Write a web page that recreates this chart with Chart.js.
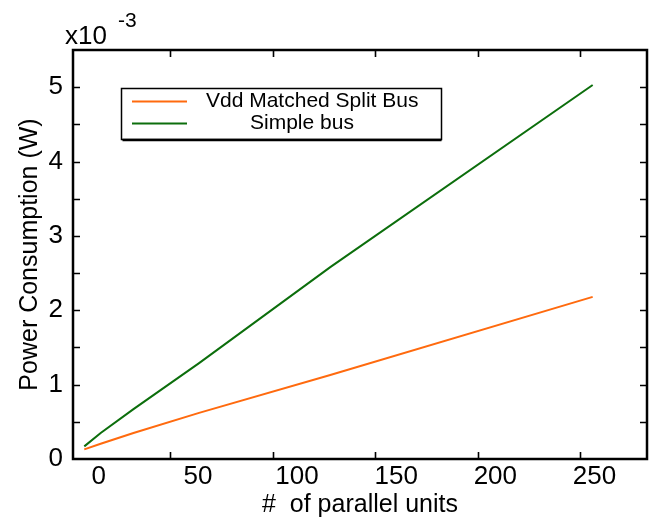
<!DOCTYPE html>
<html>
<head>
<meta charset="utf-8">
<script src="https://cdn.jsdelivr.net/npm/chart.js@4/dist/chart.umd.min.js"></script>
<style>
html,body{margin:0;padding:0;background:#fff;}
#wrap{width:654px;height:523px;position:relative;}
</style>
</head>
<body>
<div id="wrap"><canvas id="c" width="654" height="523"></canvas></div>
<script>
// ---- data ----
const parallelUnits = [8, 16, 32, 64, 128, 256];
const vddSplitBus = [0.13e-3, 0.205e-3, 0.35e-3, 0.62e-3, 1.13e-3, 2.18e-3];
const simpleBus   = [0.17e-3, 0.35e-3, 0.67e-3, 1.29e-3, 2.58e-3, 5.03e-3];
const seriesNames = ['Vdd Matched Split Bus', 'Simple bus'];
const xTickLabels = [0, 50, 100, 150, 200, 250];
const xTickMarks = [50, 100, 150, 200, 250];
const yTickMarks = [0.5e-3, 1e-3, 1.5e-3, 2e-3, 2.5e-3, 3e-3, 3.5e-3, 4e-3, 4.5e-3, 5e-3];

const FONT = 'Liberation Sans, Arial, sans-serif';
const ORANGE = '#ff6a0e';
const GREEN = '#0c6e0c';

const toPts = (xs, ys) => xs.map((x, i) => ({x: x, y: ys[i]}));

const framePlugin = {
  id: 'frame',
  afterDraw(chart) {
    const ctx = chart.ctx;
    const a = chart.chartArea;
    const xs = chart.scales.x, ys = chart.scales.y;
    ctx.save();
    ctx.strokeStyle = '#000';
    ctx.lineWidth = 1.6;
    const tl = 7;
    ctx.beginPath();
    xTickMarks.forEach(v => {
      const px = Math.round(xs.getPixelForValue(v)) + 0.5;
      ctx.moveTo(px, a.bottom); ctx.lineTo(px, a.bottom - tl);
      ctx.moveTo(px, a.top); ctx.lineTo(px, a.top + tl);
    });
    yTickMarks.forEach(v => {
      const py = Math.round(ys.getPixelForValue(v)) + 0.5;
      ctx.moveTo(a.left, py); ctx.lineTo(a.left + tl, py);
      ctx.moveTo(a.right, py); ctx.lineTo(a.right - tl, py);
    });
    ctx.stroke();
    // box
    ctx.lineWidth = 2.5;
    ctx.strokeRect(a.left, a.top, a.right - a.left, a.bottom - a.top);
    // exponent label
    ctx.fillStyle = '#000';
    ctx.textBaseline = 'alphabetic';
    ctx.textAlign = 'left';
    ctx.font = '26px ' + FONT;
    ctx.fillText('x10', 65, 44);
    ctx.font = '21px ' + FONT;
    ctx.fillText('-3', 118, 27);
    // legend
    const lx = 121.5, ly = 88.5, lw = 320, lh = 51;
    ctx.fillStyle = '#fff';
    ctx.fillRect(lx, ly, lw, lh);
    ctx.lineWidth = 1.5;
    ctx.strokeStyle = '#000';
    ctx.strokeRect(lx, ly, lw, lh);
    ctx.lineWidth = 2.5;
    ctx.beginPath(); ctx.moveTo(lx + 1, ly + lh + 0.5); ctx.lineTo(lx + lw, ly + lh + 0.5); ctx.stroke();
    ctx.lineWidth = 2;
    ctx.strokeStyle = ORANGE;
    ctx.beginPath(); ctx.moveTo(132, 101.5); ctx.lineTo(187, 101.5); ctx.stroke();
    ctx.strokeStyle = GREEN;
    ctx.beginPath(); ctx.moveTo(132, 123.5); ctx.lineTo(187, 123.5); ctx.stroke();
    ctx.fillStyle = '#000';
    ctx.font = '21px ' + FONT;
    ctx.textBaseline = 'middle';
    ctx.fillText(seriesNames[0], 206, 101);
    ctx.fillText(seriesNames[1], 250, 123);
    ctx.restore();
  }
};

new Chart(document.getElementById('c'), {
  type: 'line',
  data: {
    datasets: [
      {label: seriesNames[0], data: toPts(parallelUnits, vddSplitBus), borderColor: ORANGE, borderWidth: 2, pointRadius: 0, tension: 0, fill: false, xAxisID: 'x', yAxisID: 'y'},
      {label: seriesNames[1], data: toPts(parallelUnits, simpleBus), borderColor: GREEN, borderWidth: 2, pointRadius: 0, tension: 0, fill: false, xAxisID: 'x', yAxisID: 'y'}
    ]
  },
  options: {
    responsive: false,
    animation: false,
    layout: {padding: {left: 0, right: 7, top: 50, bottom: 0}},
    plugins: {legend: {display: false}, tooltip: {enabled: false}},
    scales: {
      x: {type: 'linear', display: false, min: 2.5, max: 282.5},
      xlab: {
        type: 'linear', position: 'bottom', min: -13, max: 276.5,
        grid: {display: false, drawTicks: false}, border: {display: false},
        afterBuildTicks: s => { s.ticks = xTickLabels.map(v => ({value: v})); },
        ticks: {autoSkip: false, padding: 2, color: '#000', font: {family: FONT, size: 26}, maxRotation: 0,
                callback: v => String(v)},
        title: {display: true, text: '#  of parallel units', color: '#000', font: {family: FONT, size: 25}, padding: {top: 0, bottom: 3}},
        afterFit: s => { s.height = 64; }
      },
      y: {
        type: 'linear', position: 'left', min: 0, max: 0.0055,
        grid: {display: false, drawTicks: false}, border: {display: false},
        ticks: {stepSize: 0.0005, autoSkip: false, padding: 10, color: '#000', font: {family: FONT, size: 26},
                callback: v => { const m = v * 1000; return Math.abs(m - Math.round(m)) < 1e-6 ? String(Math.round(m)) : ''; }},
        title: {display: true, text: 'Power Consumption (W)', color: '#000', font: {family: FONT, size: 25}, padding: {top: 15, bottom: 0}},
        afterFit: s => { s.width = 73; }
      }
    }
  },
  plugins: [framePlugin]
});
</script>
</body>
</html>
